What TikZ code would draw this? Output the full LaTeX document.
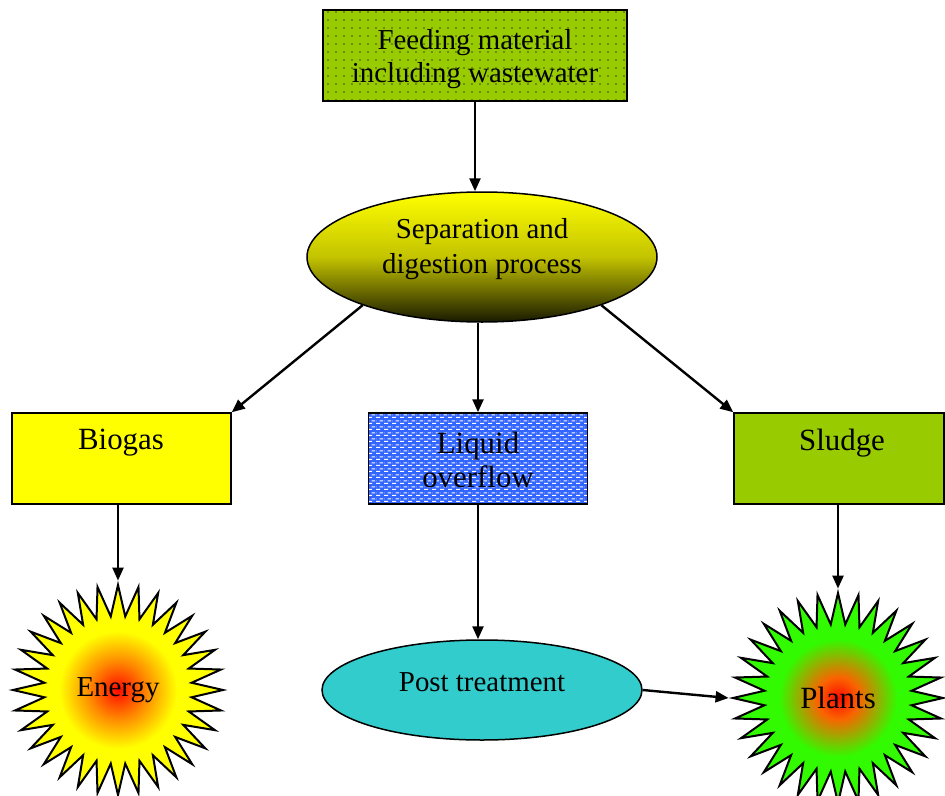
\documentclass[tikz,border=0pt]{standalone}
\usepackage{fontspec}
\setmainfont{Liberation Serif}
\usetikzlibrary{shapes.geometric,arrows.meta,patterns.meta}
\definecolor{boxgreen}{RGB}{153,204,0}
\definecolor{boxyellow}{RGB}{255,255,0}
\definecolor{boxblue}{RGB}{51,102,255}
\definecolor{postteal}{RGB}{51,204,204}
\definecolor{dotgray}{RGB}{60,80,30}
\definecolor{sepmid}{RGB}{195,195,0}
\definecolor{sepbot}{RGB}{25,25,0}
\definecolor{plantgreen}{RGB}{50,250,0}
\definecolor{burstred}{RGB}{255,10,0}
\definecolor{burstorange}{RGB}{255,140,0}
\definecolor{plantorange}{RGB}{250,100,0}
\pgfdeclareverticalshading{sepshade}{100bp}{color(0bp)=(sepbot); color(25bp)=(sepbot); color(50bp)=(sepmid); color(75bp)=(boxyellow); color(100bp)=(boxyellow)}
\pgfdeclareradialshading{energyshade}{\pgfpoint{0bp}{0bp}}{color(0bp)=(burstred); color(7bp)=(burstorange); color(14bp)=(boxyellow); color(25bp)=(boxyellow); color(50bp)=(boxyellow)}
\pgfdeclareradialshading{plantshade}{\pgfpoint{0bp}{0bp}}{color(0bp)=(burstred); color(5bp)=(plantorange); color(14bp)=(plantgreen); color(25bp)=(plantgreen); color(50bp)=(plantgreen)}
\tikzdeclarepattern{name=whitedash, type=uncolored,
  bounding box={(0bp,0bp) and (8bp,6bp)}, tile size={(8bp,6bp)},
  code={
    \pgfpathrectangle{\pgfpoint{0bp}{0bp}}{\pgfpoint{4.5bp}{1.3bp}}
    \pgfpathrectangle{\pgfpoint{4bp}{3bp}}{\pgfpoint{4bp}{1.3bp}}
    \pgfpathrectangle{\pgfpoint{0bp}{3bp}}{\pgfpoint{0.5bp}{1.3bp}}
    \pgfusepath{fill}
  }}
\begin{document}
\begin{tikzpicture}[x=1bp,y=-1bp,
  every node/.style={font=\fontsize{29}{33}\selectfont, inner sep=0pt},
  bigtext/.style={font=\fontsize{31}{34}\selectfont},
  boxshape/.style={rectangle, draw=black, line width=1.5bp, minimum height=91bp},
  arr/.style={line width=2.4bp, -{Triangle[length=13bp,width=11bp]}},
  burst/.style={star, star points=32, star point ratio=1.42, draw=black, line width=2bp, minimum size=210bp}
]
\fill[white] (0,0) rectangle (945,796);
\useasboundingbox (0,0) rectangle (945,796);

\node[boxshape, preaction={fill=boxgreen}, pattern={Dots[distance=8bp,radius=0.8bp]}, pattern color=dotgray,
      minimum width=304bp] (feed) at (475,55.5) {};
\node[align=center] (feedtext) at (475,59) {Feeding material\\including wastewater};

\node[ellipse, draw=black, line width=1.5bp, shading=sepshade, minimum width=350bp, minimum height=130bp] (sep) at (482,257) {};
\node[align=center, font=\fontsize{29}{34.5}\selectfont] (septext) at (482,249) {Separation and\\digestion process};

\node[boxshape, fill=boxyellow, minimum width=219bp] (bio) at (121.5,458.5) {};
\node[bigtext] (biotext) at (121,443) {Biogas};

\node[boxshape, preaction={fill=boxblue}, pattern=whitedash, pattern color=white,
      minimum width=219bp] (liq) at (478,458.5) {};
\node[align=center, bigtext] (liqtext) at (478,460) {Liquid\\overflow};

\node[boxshape, fill=boxgreen, minimum width=210bp] (slu) at (839,458.5) {};
\node[bigtext] (slutext) at (842,443) {Sludge};

\node[burst, shading=energyshade] (energy) at (118,690) {Energy};

\node[ellipse, draw=black, line width=1.5bp, fill=postteal, minimum width=320bp, minimum height=100bp] (post) at (482,690) {};
\node (posttext) at (482,682) {Post treatment};

\node[burst, shading=plantshade, bigtext] (plants) at (838,698) {Plants};

\draw[arr] (feed.south) -- (feed.south |- sep.north);
\draw[arr] (sep.202) -- (bio.north east);
\draw[arr] (sep.south -| liq.north) -- (liq.north);
\draw[arr] (sep.338) -- (slu.north west);
\draw[arr] (bio.south -| energy.outer point 1) -- (energy.outer point 1);
\draw[arr] (liq.south) -- (liq.south |- post.north);
\draw[arr] (slu.south -| plants.outer point 1) -- (plants.outer point 1);
\draw[arr] (post.east) -- (plants.outer point 9);
\end{tikzpicture}
\end{document}
